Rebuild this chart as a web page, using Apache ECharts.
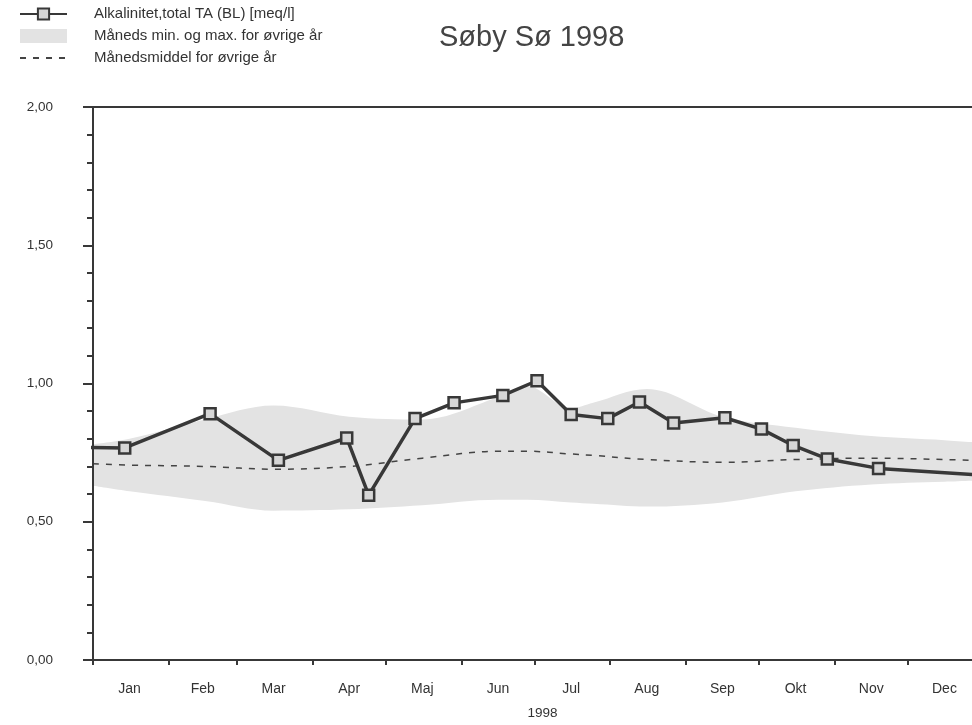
<!DOCTYPE html>
<html lang="da">
<head>
<meta charset="utf-8">
<title>Søby Sø 1998</title>
<script src="https://cdn.jsdelivr.net/npm/echarts@6/dist/echarts.min.js"></script>
<style>
    html, body { margin: 0; padding: 0; background: #fff; }
    #main { width: 972px; height: 725px; }
</style>
</head>
<body>
<div id="main"></div>
<script>
    // months (day of year, 0 = 1 Jan)
    var months = ['Jan', 'Feb', 'Mar', 'Apr', 'Maj', 'Jun', 'Jul', 'Aug', 'Sep', 'Okt', 'Nov', 'Dec'];
    var monthStarts = [0, 31, 59, 90, 120, 151, 181, 212, 243, 273, 304, 334];
    var monthMids = [15, 45, 74, 105, 135, 166, 196, 227, 258, 288, 319, 349];

    // 1998 measurements
    var alkDays = [-12, 13, 48, 76, 104, 113, 132, 148, 168, 182, 196, 211, 224, 238, 259, 274, 287, 301, 322, 366];
    var alkValues = [0.77, 0.767, 0.891, 0.722, 0.803, 0.596, 0.873, 0.930, 0.957, 1.010, 0.888, 0.873, 0.933, 0.857, 0.876, 0.835, 0.776, 0.727, 0.693, 0.668];

    // other years: monthly min / max / mean
    var bandDays = [0, 15, 46, 74, 105, 135, 166, 178, 196, 205, 227, 258, 288, 319, 349, 365];
    var bandMax = [0.78, 0.80, 0.87, 0.92, 0.88, 0.87, 0.95, 0.99, 0.91, 0.93, 0.98, 0.88, 0.84, 0.81, 0.795, 0.785];
    var bandMin = [0.63, 0.61, 0.575, 0.54, 0.545, 0.56, 0.58, 0.58, 0.57, 0.565, 0.555, 0.57, 0.61, 0.635, 0.645, 0.65];
    var meanValues = [0.71, 0.705, 0.70, 0.69, 0.70, 0.73, 0.755, 0.755, 0.745, 0.74, 0.725, 0.715, 0.725, 0.73, 0.725, 0.72];

    var nameAlk = 'Alkalinitet,total TA (BL) [meq/l]';
    var nameBand = 'Måneds min. og max. for øvrige år';
    var nameMean = 'Månedsmiddel for øvrige år';

    // the page is cut off a few days before new year
    var lastDay = 360.3;

    function pairs(xs, ys) {
        return xs.map(function (x, i) { return [x, ys[i]]; });
    }

    var alkData = alkDays.map(function (d, i) {
        var item = { value: [d, alkValues[i]] };
        if (d < 0 || d > lastDay) item.symbol = 'none';
        return item;
    });

    var ink = '#383838';
    var bandGray = '#e3e3e3';
    var font = 'Liberation Sans, Arial, sans-serif';

    var myChart = echarts.init(document.getElementById('main'));
    myChart.setOption({
        animation: false,
        backgroundColor: '#fff',
        title: {
            text: 'Søby Sø 1998',
            left: 434,
            top: 18,
            textStyle: { fontSize: 29, fontWeight: 'normal', color: '#444', fontFamily: font }
        },
        legend: {
            orient: 'vertical',
            left: 14,
            top: 1,
            itemGap: 6,
            itemWidth: 47,
            itemHeight: 14,
            selectedMode: false,
            textStyle: { fontSize: 15, lineHeight: 16, color: '#333', fontFamily: font, padding: [0, 0, 0, 22] },
            data: [
                { name: nameAlk },
                { name: nameBand, icon: 'rect' },
                { name: nameMean, itemStyle: { opacity: 0 } }
            ]
        },
        grid: {
            left: 93,
            right: 0,
            top: 107,
            bottom: 55
        },
        xAxis: [
            {
                type: 'value',
                min: 0,
                max: lastDay,
                z: 10,
                name: '1998',
                nameLocation: 'middle',
                nameGap: 46,
                nameTextStyle: { fontSize: 13.5, color: '#333', fontFamily: font, padding: [0, 0, 0, 20] },
                splitLine: { show: false },
                axisLine: { lineStyle: { color: ink, width: 2 } },
                axisTick: { customValues: monthStarts, length: 5, lineStyle: { color: ink, width: 2 } },
                axisLabel: {
                    customValues: monthMids,
                    margin: 22,
                    fontSize: 14,
                    color: '#333',
                    fontFamily: font,
                    formatter: function (v) { return months[monthMids.indexOf(v)]; }
                }
            },
            {
                // top frame line only
                type: 'value',
                position: 'top',
                min: 0,
                max: lastDay,
                z: 10,
                splitLine: { show: false },
                axisLine: { show: true, lineStyle: { color: ink, width: 2 } },
                axisTick: { show: false },
                axisLabel: { show: false }
            }
        ],
        yAxis: {
            type: 'value',
            min: 0,
            max: 2,
            interval: 0.5,
            z: 10,
            splitLine: { show: false },
            axisLine: { show: true, lineStyle: { color: ink, width: 2 } },
            axisTick: { show: true, length: 10, lineStyle: { color: ink, width: 2 } },
            minorTick: { show: true, splitNumber: 5, length: 6, lineStyle: { color: ink, width: 2 } },
            axisLabel: {
                margin: 40,
                fontSize: 13.5,
                color: '#333',
                fontFamily: font,
                formatter: function (v) { return v.toFixed(2).replace('.', ','); }
            }
        },
        series: [
            {
                name: nameBand,
                type: 'line',
                data: pairs(bandDays, bandMax),
                smooth: 0.35,
                symbol: 'none',
                z: 1,
                itemStyle: { color: bandGray },
                lineStyle: { width: 0 },
                areaStyle: { color: bandGray, opacity: 1 }
            },
            {
                name: 'min',
                type: 'line',
                data: pairs(bandDays, bandMin),
                smooth: 0.35,
                symbol: 'none',
                z: 1,
                itemStyle: { color: '#fff' },
                lineStyle: { width: 0 },
                areaStyle: { color: '#fff', opacity: 1 }
            },
            {
                name: nameMean,
                type: 'line',
                data: pairs(bandDays, meanValues),
                smooth: 0.35,
                symbol: 'none',
                z: 2,
                itemStyle: { color: '#444' },
                lineStyle: { color: '#444', width: 1.5, type: [6, 7] }
            },
            {
                name: nameAlk,
                type: 'line',
                data: alkData,
                z: 3,
                symbol: 'rect',
                symbolSize: 11,
                itemStyle: { color: '#d6d6d6', borderColor: ink, borderWidth: 2.5 },
                lineStyle: { color: ink, width: 3.5 }
            }
        ]
    });
    window.onresize = myChart.resize;
</script>
</body>
</html>
